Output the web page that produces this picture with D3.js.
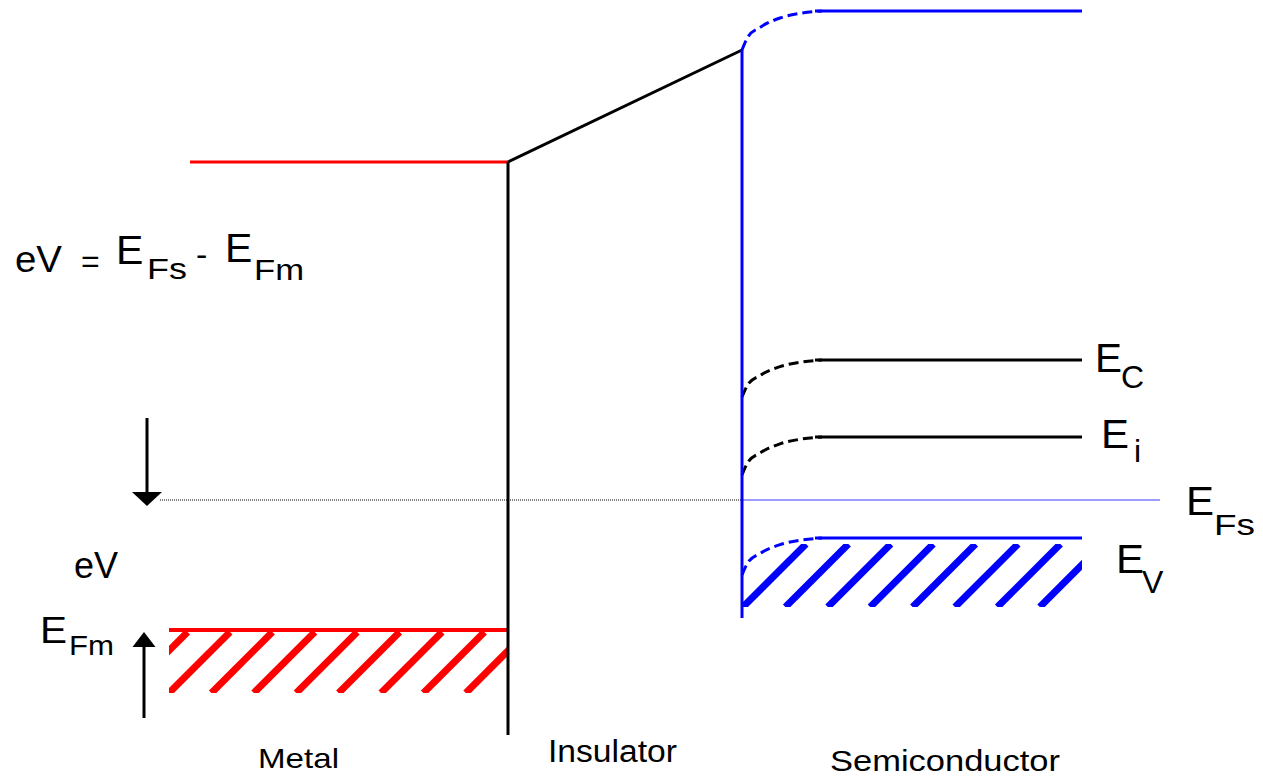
<!DOCTYPE html>
<html>
<head>
<meta charset="utf-8">
<script src="https://cdn.jsdelivr.net/npm/d3@7"></script>
<style>
  html, body { margin: 0; padding: 0; background: #fff; }
  svg { display: block; }
  text { font-family: "Liberation Sans", Arial, sans-serif; fill: #000; }
</style>
</head>
<body>
<svg id="chart" width="1263" height="776"></svg>
<script>
// ---- data (energies in eV relative to E_Fs, positions in arbitrary depth units) ----
const semiLevels   = ["Evac", "EC", "Ei", "EV"];
const semiBulk     = [4.89, 1.40, 0.63, -0.38];
const semiSurface  = [4.50, 1.03, 0.25, -0.75];
const semiColors   = ["#0000ff", "#000000", "#000000", "#0000ff"];
const metalLevels  = [3.38, -1.30];            // metal top level, E_Fm
const fermiSemi    = 0;
const interfaces   = [0, 2.34];                // metal/insulator, insulator/semiconductor
const metalRange   = [-3.18, 0];
const metalHatchRange = [-3.39, 0];
const semiEnd      = 5.74;
const fermiRange   = [-3.48, 6.52];
const bendProfileX    = [0, 0.06, 0.18, 0.38, 0.58, 0.80];
const bendProfileFrac = [1, 0.66, 0.42, 0.18, 0.06, 0];
const solidStart   = 0.73;
const blueHatchBand = [-0.44, -1.07];
const redHatchBand  = [-1.32, -1.93];
const hatchSpacing = 0.424;
const blueVertical = [4.50, -1.18];
const blackVertical = [3.38, -2.35];
const downArrow = [0.82, -0.06];
const upArrow = [-2.18, -1.32];
const arrowX = [-3.61, -3.64];
const regionNames = ["Metal", "Insulator", "Semiconductor"];

// ---- scales ----
const x = d3.scaleLinear().domain([-5.08, 7.55]).range([0, 1263]);
const y = d3.scaleLinear().domain([-2.76, 5.0]).range([776, 0]);

const svg = d3.select("#chart");
const defs = svg.append("defs");

const line = d3.line().x(d => x(d[0])).y(d => y(d[1]));
const curveLine = d3.line().x(d => x(d[0])).y(d => y(d[1])).curve(d3.curveMonotoneX);

// ---- hatches ----
function hatchBand(id, x0, x1, band, kStart, kEnd, offset, color) {
  const yTop = band[0], yBot = band[1];
  defs.append("clipPath").attr("id", id).append("rect")
    .attr("x", x(x0)).attr("y", y(yTop)).attr("width", x(x1) - x(x0)).attr("height", y(yBot) - y(yTop));
  const g = svg.append("g").attr("clip-path", `url(#${id})`);
  const dpx = y(yBot) - y(yTop);
  g.selectAll("line").data(d3.range(kStart, kEnd)).join("line")
    .attr("x1", k => x(x0 + offset + k * hatchSpacing)).attr("y1", y(yBot))
    .attr("x2", k => x(x0 + offset + k * hatchSpacing) + dpx).attr("y2", y(yTop))
    .attr("stroke", color).attr("stroke-width", 7);
}
hatchBand("cb", interfaces[1], semiEnd, blueHatchBand, 0, 8, 0.01, "#0000ff");
hatchBand("cr", metalHatchRange[0], metalHatchRange[1], redHatchBand, -1, 8, 0, "#ff0000");

// ---- Fermi level line ----
svg.append("path").attr("d", line([[fermiRange[0], fermiSemi], [interfaces[1], fermiSemi]]))
  .attr("stroke", "#000").attr("stroke-width", 1).attr("stroke-dasharray", "1,1").attr("fill", "none");
svg.append("path").attr("d", line([[interfaces[1], fermiSemi], [fermiRange[1], fermiSemi]]))
  .attr("stroke", "#3b3bff").attr("stroke-width", 1).attr("fill", "none");

// ---- metal levels ----
svg.append("path").attr("d", line([[metalRange[0], metalLevels[0]], [metalRange[1], metalLevels[0]]]))
  .attr("stroke", "#ff0000").attr("stroke-width", 3).attr("fill", "none");
svg.append("path").attr("d", line([[metalHatchRange[0], metalLevels[1]], [metalHatchRange[1], metalLevels[1]]]))
  .attr("stroke", "#ff0000").attr("stroke-width", 4).attr("fill", "none");

// ---- insulator ----
svg.append("path").attr("d", line([[interfaces[0], metalLevels[0]], [interfaces[1], semiSurface[0]]]))
  .attr("stroke", "#000").attr("stroke-width", 3).attr("fill", "none");
svg.append("path").attr("d", line([[interfaces[0], blackVertical[0]], [interfaces[0], blackVertical[1]]]))
  .attr("stroke", "#000").attr("stroke-width", 3).attr("fill", "none");

// ---- semiconductor bands ----
semiLevels.forEach((name, i) => {
  const pts = bendProfileX.map((p, j) => [interfaces[1] + p, semiBulk[i] + bendProfileFrac[j] * (semiSurface[i] - semiBulk[i])]);
  svg.append("path").attr("d", curveLine(pts))
    .attr("stroke", semiColors[i]).attr("stroke-width", 3).attr("fill", "none")
    .attr("stroke-dasharray", "10,5");
  svg.append("path").attr("d", line([[interfaces[1] + solidStart, semiBulk[i]], [semiEnd, semiBulk[i]]]))
    .attr("stroke", semiColors[i]).attr("stroke-width", 3).attr("fill", "none");
});
svg.append("path").attr("d", line([[interfaces[1], blueVertical[0]], [interfaces[1], blueVertical[1]]]))
  .attr("stroke", "#0000ff").attr("stroke-width", 3).attr("fill", "none");

// ---- arrows ----
function arrow(xv, yFrom, yTo, hw, hl) {
  const dir = yTo > yFrom ? 1 : -1;
  const xp = x(xv), yf = y(yFrom), yt = y(yTo);
  const base = yt + dir * hl;
  svg.append("line").attr("x1", xp).attr("x2", xp).attr("y1", yf).attr("y2", base)
    .attr("stroke", "#000").attr("stroke-width", 3);
  svg.append("path").attr("d", `M${xp - hw},${base}L${xp + hw},${base}L${xp},${yt}Z`).attr("fill", "#000");
}
arrow(arrowX[0], downArrow[0], downArrow[1], 15, 14);
arrow(arrowX[1], upArrow[0], upArrow[1], 11.5, 15);

// ---- labels ----
function txt(s, px, py, size, len) {
  const t = svg.append("text").attr("x", px).attr("y", py).attr("font-size", size).text(s);
  if (len) t.attr("textLength", len).attr("lengthAdjust", "spacingAndGlyphs");
  return t;
}
// equation
txt("eV", 15, 272, 36, 47);
txt("=", 81, 272, 32);
txt("E", 116, 264, 41);
txt("Fs", 147, 279, 29, 40);
txt("-", 196, 266, 34);
txt("E", 225, 262, 41);
txt("Fm", 254, 280, 29, 50);
// left labels
txt("eV", 74, 578, 36);
txt("E", 40, 643, 36, 27);
txt("Fm", 69, 655, 28, 45);
// band labels
txt("E", 1095, 372, 40, 27); txt("C", 1121, 388, 32);
txt("E", 1101, 448, 40, 28); txt("i", 1134, 462, 32);
txt("E", 1186, 515, 40, 28); txt("Fs", 1214, 535, 30, 41);
txt("E", 1116, 573, 40, 28); txt("V", 1142, 593, 32);
// regions
txt(regionNames[0], 258, 768, 28, 81);
txt(regionNames[1], 548, 762, 31, 129);
txt(regionNames[2], 830, 771, 30, 230);
</script>
</body>
</html>
